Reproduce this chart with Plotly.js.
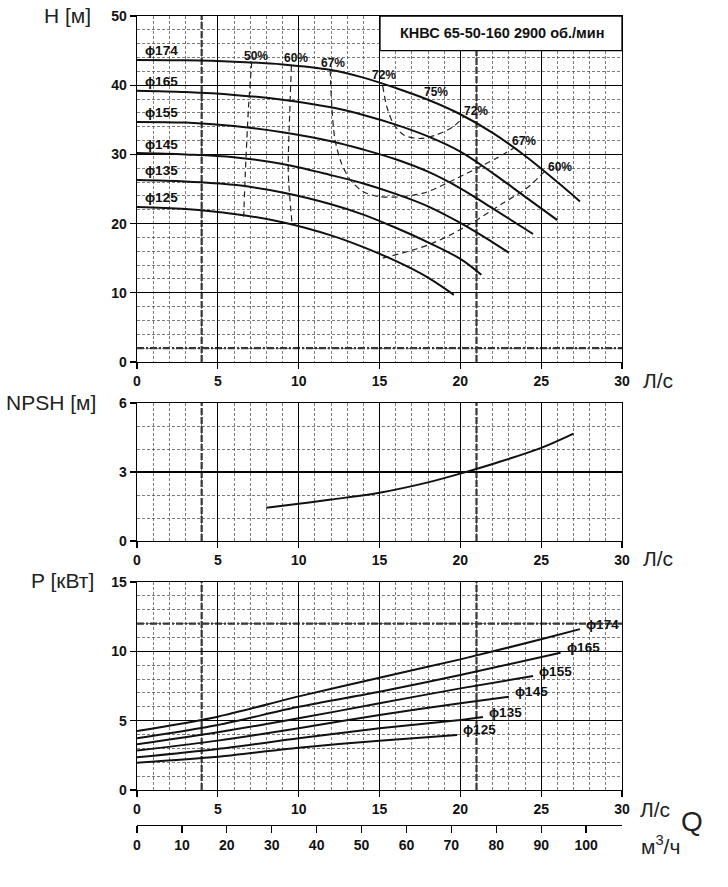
<!DOCTYPE html>
<html>
<head>
<meta charset="utf-8">
<script src="https://cdn.plot.ly/plotly-3.0.1.min.js"></script>
<style>
  html, body { margin: 0; padding: 0; background: #fff; }
  #chart { width: 728px; height: 887px; }
</style>
</head>
<body>
<div id="chart"></div>
<script>
// Head curves H(Q), Q in l/s, H in m
var diameters = ["174", "165", "155", "145", "135", "125"];

var qH174 = [0, 3, 6, 9, 12, 14, 16, 18, 20, 22, 24, 26, 27.4];
var h174  = [43.65, 43.6, 43.4, 43.0, 42.2, 41.1, 39.6, 37.9, 35.8, 33.1, 29.8, 26.0, 23.2];
var qH165 = [0, 3, 6, 9, 12, 14, 16, 18, 20, 22, 24, 26];
var h165  = [39.2, 39.0, 38.6, 37.9, 36.8, 35.7, 34.3, 32.6, 30.4, 27.3, 23.9, 20.5];
var qH155 = [0, 3, 6, 9, 12, 14, 16, 18, 20, 22, 24.5];
var h155  = [34.7, 34.6, 34.1, 33.2, 31.9, 30.7, 29.3, 27.5, 25.1, 22.2, 18.5];
var qH145 = [0, 3, 6, 9, 12, 14, 16, 18, 20, 22, 23];
var h145  = [30.2, 30.0, 29.6, 28.6, 27.0, 25.8, 24.3, 22.5, 20.1, 17.3, 15.8];
var qH135 = [0, 3, 6, 9, 12, 14, 16, 18, 20, 21.3];
var h135  = [26.3, 26.1, 25.6, 24.5, 22.8, 21.3, 19.4, 17.3, 14.9, 12.6];
var qH125 = [0, 3, 6, 9, 12, 14, 16, 18, 19.6];
var h125  = [22.4, 22.1, 21.4, 20.2, 18.3, 16.6, 14.6, 12.2, 9.7];

// Efficiency iso-lines
var qE50  = [7.1, 6.9, 6.7, 6.6];
var hE50  = [43.4, 36.9, 27.3, 21.0];
var qE60a = [9.55, 9.46, 9.36, 9.6];
var hE60a = [42.8, 36.9, 27.3, 19.8];
var qE67  = [11.95, 12.05, 12.25, 12.65, 13.2, 14.0, 15.0, 16.5, 17.7, 18.5, 20.6, 22.2, 23.3];
var hE67  = [42.2, 36.9, 32.1, 28.7, 26.3, 24.6, 23.9, 23.9, 24.4, 25.1, 27.5, 29.4, 30.9];
var qE72  = [15.2, 15.45, 15.85, 16.5, 17.5, 18.5, 19.55, 20.2];
var hE72  = [39.9, 36.9, 34.5, 32.8, 32.3, 32.8, 34.0, 35.4];
var qE60b = [15.2, 16.5, 18, 19.5, 21, 22.6, 24.1, 25.2];
var hE60b = [15.0, 15.8, 16.9, 18.5, 20.5, 22.9, 25.1, 27.5];

var effLabels = ["50%", "60%", "67%", "72%", "75%", "72%", "67%", "60%"];
var effLabelQ = [7.36, 9.81, 12.1, 15.27, 18.5, 20.96, 23.95, 26.16];
var effLabelH = [44.2, 44.0, 43.2, 41.5, 39.0, 36.2, 31.9, 28.2];

// NPSH
var qNpsh = [8, 10, 12, 15, 18, 20, 22, 25, 27];
var npsh  = [1.45, 1.62, 1.8, 2.1, 2.55, 2.93, 3.35, 4.05, 4.67];

// Power P(Q), kW
var qP174 = [0, 5, 10, 15, 20, 25, 27.4];
var p174  = [4.25, 5.29, 6.75, 8.1, 9.42, 10.87, 11.6];
var qP165 = [0, 5, 10, 15, 20, 26.2];
var p165  = [3.73, 4.69, 6.0, 7.09, 8.29, 9.9];
var qP155 = [0, 5, 10, 15, 20, 24.5];
var p155  = [3.29, 4.16, 5.17, 6.25, 7.33, 8.22];
var qP145 = [0, 5, 10, 15, 20, 23];
var p145  = [2.84, 3.56, 4.45, 5.41, 6.25, 6.73];
var qP135 = [0, 5, 10, 15, 20, 21.4];
var p135  = [2.36, 2.96, 3.73, 4.45, 5.05, 5.26];
var qP125 = [0, 5, 10, 15, 19.8];
var p125  = [1.97, 2.4, 3.05, 3.56, 3.97];

var headQ = [qH174, qH165, qH155, qH145, qH135, qH125];
var headH = [h174, h165, h155, h145, h135, h125];
var powQ  = [qP174, qP165, qP155, qP145, qP135, qP125];
var powP  = [p174, p165, p155, p145, p135, p125];
var effQ  = [qE50, qE60a, qE67, qE72, qE60b];
var effH  = [hE50, hE60a, hE67, hE72, hE60b];

var W = 728, H = 887;
function px(x) { return x / W; }
function py(y) { return 1 - y / H; }

var sans = "Liberation Sans, Arial, sans-serif";
var tickFont = { family: sans, size: 14, color: "#111", weight: "bold" };
var labelFont = { family: sans, size: 21, color: "#222" };

var traces = [];

// Head curves
headQ.forEach(function (q, i) {
    traces.push({
        x: q, y: headH[i], xaxis: "x", yaxis: "y",
        mode: "lines", line: { color: "#111", width: 2, shape: "spline", smoothing: 1 },
        hoverinfo: "skip", showlegend: false
    });
});

// Efficiency lines
effQ.forEach(function (q, i) {
    traces.push({
        x: q, y: effH[i], xaxis: "x", yaxis: "y",
        mode: "lines", line: { color: "#222", width: 1.2, dash: "6px,4px", shape: "spline", smoothing: 0.8 },
        hoverinfo: "skip", showlegend: false
    });
});

// NPSH
traces.push({
    x: qNpsh, y: npsh, xaxis: "x2", yaxis: "y2",
    mode: "lines", line: { color: "#111", width: 2, shape: "spline" },
    hoverinfo: "skip", showlegend: false
});

// Power curves
powQ.forEach(function (q, i) {
    traces.push({
        x: q, y: powP[i], xaxis: "x3", yaxis: "y3",
        mode: "lines", line: { color: "#111", width: 2, shape: "spline", smoothing: 0.8 },
        hoverinfo: "skip", showlegend: false
    });
});

// Dummy trace so the m3/h axis gets drawn
traces.push({
    x: [0, 108], y: [0, 0], xaxis: "x4", yaxis: "y3",
    mode: "markers", marker: { opacity: 0 }, hoverinfo: "skip", showlegend: false
});

var xDomain = [px(137), px(622)];

function xAxis(anchor) {
    return {
        domain: xDomain, anchor: anchor, range: [0, 30], tick0: 0, dtick: 5,
        showline: true, mirror: true, linecolor: "#000", linewidth: 1.3,
        ticks: "outside", ticklen: 6, tickwidth: 1.3, tickcolor: "#000",
        showgrid: true, gridcolor: "#000", gridwidth: 1.2, zeroline: false,
        tickfont: tickFont,
        minor: { dtick: 1, tick0: 0, showgrid: true, gridcolor: "#444", gridwidth: 0.7, griddash: "3px,2px" }
    };
}

function yAxis(anchor, domain, range, dtick, minor) {
    return {
        domain: domain, anchor: anchor, range: range, tick0: 0, dtick: dtick,
        showline: true, mirror: true, linecolor: "#000", linewidth: 1.3,
        ticks: "outside", ticklen: 6, tickwidth: 1.3, tickcolor: "#000",
        showgrid: true, gridcolor: "#000", gridwidth: 1.2, zeroline: false,
        tickfont: tickFont,
        minor: { dtick: minor, tick0: 0, showgrid: true, gridcolor: "#444", gridwidth: 0.7, griddash: "3px,2px" }
    };
}

var shapes = [];
// Heavy dashed reference lines
[["x", "y domain"], ["x2", "y2 domain"], ["x3", "y3 domain"]].forEach(function (r) {
    [4, 21].forEach(function (q) {
        shapes.push({
            type: "line", xref: r[0], yref: r[1], x0: q, x1: q, y0: 0, y1: 1,
            layer: "below", line: { color: "#333", width: 2.2, dash: "7px,2px" }
        });
    });
});
shapes.push({
    type: "line", xref: "x domain", yref: "y", x0: 0, x1: 1, y0: 2, y1: 2,
    layer: "below", line: { color: "#333", width: 2.2, dash: "7px,2px,2px,2px" }
});
shapes.push({
    type: "line", xref: "x3 domain", yref: "y3", x0: 0, x1: 1, y0: 12, y1: 12,
    layer: "below", line: { color: "#333", width: 2.2, dash: "7px,2px,2px,2px" }
});
// Title box
shapes.push({
    type: "rect", xref: "x", yref: "y", x0: 15.03, x1: 30, y0: 45.0, y1: 50,
    layer: "above", fillcolor: "#fff", line: { color: "#000", width: 1.3 }
});

var annotations = [];
annotations.push({
    xref: "x", yref: "y", x: 22.55, y: 47.5, xanchor: "center", yanchor: "middle", showarrow: false,
    text: "КНВС 65-50-160 2900 об./мин",
    font: { family: sans, size: 14.5, color: "#111", weight: "bold" }
});

// Diameter labels on head curves
headQ.forEach(function (q, i) {
    annotations.push({
        xref: "x", yref: "y", x: 0.4, y: headH[i][0], xanchor: "left", yanchor: "middle",
        yshift: 9, showarrow: false, text: "ϕ" + diameters[i],
        font: { family: sans, size: 13.5, color: "#111", weight: "bold" }
    });
});

// Efficiency labels
effLabels.forEach(function (t, i) {
    annotations.push({
        xref: "x", yref: "y", x: effLabelQ[i], y: effLabelH[i], xanchor: "center", yanchor: "middle",
        showarrow: false, text: t,
        font: { family: sans, size: 12, color: "#111", weight: "bold" }
    });
});

// Diameter labels on power curves
powQ.forEach(function (q, i) {
    annotations.push({
        xref: "x3", yref: "y3", x: q[q.length - 1], y: powP[i][powP[i].length - 1],
        xanchor: "left", yanchor: "middle", xshift: 4, yshift: 5, showarrow: false,
        text: "ϕ" + diameters[i],
        font: { family: sans, size: 13.5, color: "#111", weight: "bold" }
    });
});

// Axis labels
function label(text, x, y, size) {
    annotations.push({
        xref: "paper", yref: "paper", x: px(x), y: py(y), xanchor: "center", yanchor: "middle",
        showarrow: false, text: text,
        font: { family: labelFont.family, size: size || labelFont.size, color: labelFont.color }
    });
}
label("H [м]", 67, 16);
label("NPSH [м]", 51, 402);
label("P [кВт]", 62, 580);
label("Л/с", 658, 380);
label("Л/с", 658, 558);
label("Л/с", 655, 809);
label("м<sup>3</sup>/ч", 660, 845);
label("Q", 692, 821, 28);

var layout = {
    width: W, height: H,
    margin: { l: 0, r: 0, t: 0, b: 0 },
    paper_bgcolor: "#fff", plot_bgcolor: "#fff",
    showlegend: false,
    xaxis: xAxis("y"),
    xaxis2: xAxis("y2"),
    xaxis3: xAxis("y3"),
    xaxis4: {
        overlaying: "x3", anchor: "free", position: py(825), side: "bottom",
        range: [0, 108], tick0: 0, dtick: 10,
        showline: true, linecolor: "#000", linewidth: 1.3,
        ticks: "outside", ticklen: 7, tickwidth: 1.3, tickcolor: "#000",
        showgrid: false, zeroline: false, tickfont: tickFont
    },
    yaxis: yAxis("x", [py(362), py(16)], [0, 50], 10, 2),
    yaxis2: yAxis("x2", [py(541), py(403)], [0, 6], 3, 1),
    yaxis3: yAxis("x3", [py(790), py(582)], [0, 15], 5, 1),
    shapes: shapes,
    annotations: annotations
};

Plotly.newPlot("chart", traces, layout, { staticPlot: true, displayModeBar: false });
</script>
</body>
</html>
